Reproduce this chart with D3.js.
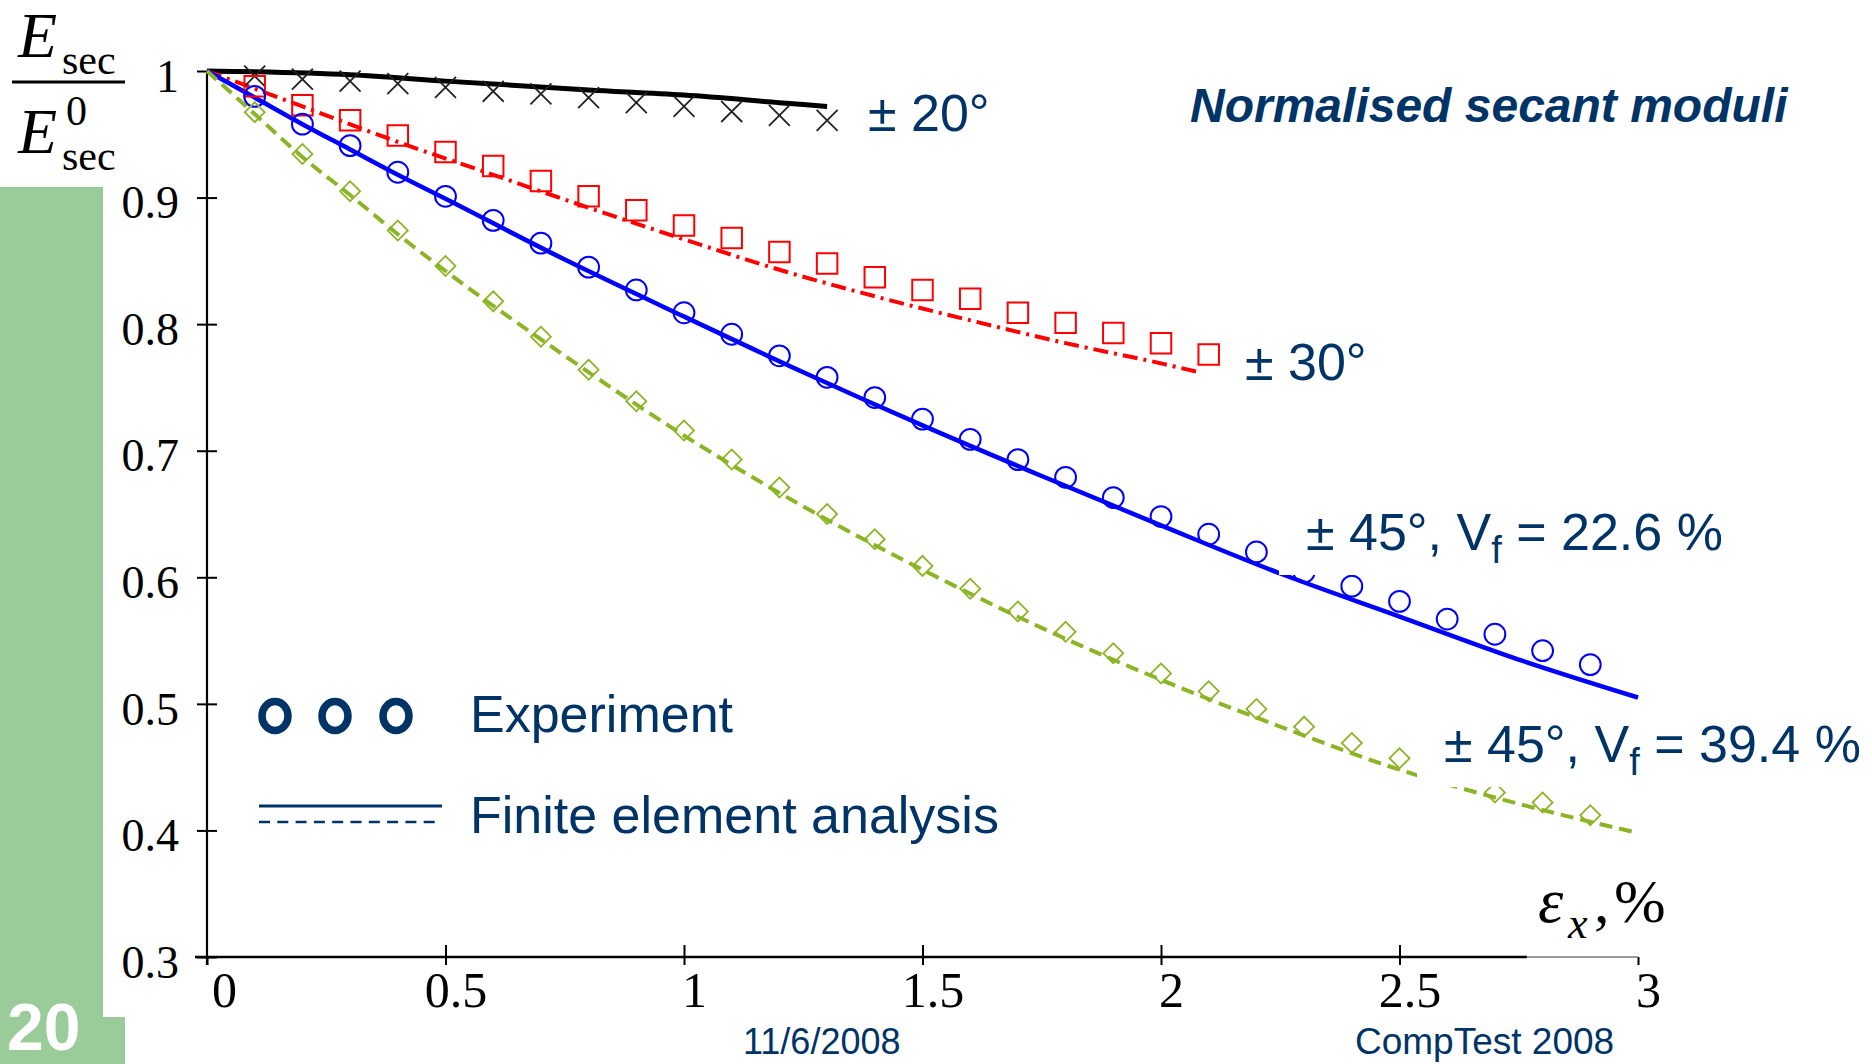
<!DOCTYPE html>
<html>
<head>
<meta charset="UTF-8">
<script src="https://d3js.org/d3.v7.min.js"></script>
<style>
  body { margin: 0; background: #fff; }
  svg text { font-family: "Liberation Sans", Arial, sans-serif; }
  .tick text { font-family: "Liberation Serif", "Times New Roman", serif; fill: #000; }
  .serif { font-family: "Liberation Serif", "Times New Roman", serif !important; }
  .navy { fill: #003366; }
</style>
</head>
<body>
<svg id="chart" width="1872" height="1064"></svg>
<script>
// ---- data ----
// experiments, strain steps of 0.1 %
var exp20X = [0.1,0.2,0.3,0.4,0.5,0.6,0.7,0.8,0.9,1.0,1.1,1.2,1.3];
var exp20Y = [0.996,0.9935,0.992,0.990,0.987,0.984,0.982,0.979,0.975,0.972,0.968,0.965,0.961];

var exp30X = [0.1,0.2,0.3,0.4,0.5,0.6,0.7,0.8,0.9,1.0,1.1,1.2,1.3,1.4,1.5,1.6,1.7,1.8,1.9,2.0,2.1];
var exp30Y = [0.988,0.973,0.961,0.949,0.936,0.925,0.913,0.901,0.890,0.878,0.868,0.857,0.848,0.837,0.827,0.820,0.809,0.801,0.793,0.785,0.776];

var exp45aX = [0.1,0.2,0.3,0.4,0.5,0.6,0.7,0.8,0.9,1.0,1.1,1.2,1.3,1.4,1.5,1.6,1.7,1.8,1.9,2.0,2.1,2.2,2.3,2.4,2.5,2.6,2.7,2.8,2.9];
var exp45aY = [0.980,0.958,0.941,0.920,0.901,0.882,0.864,0.845,0.827,0.809,0.792,0.775,0.758,0.742,0.725,0.709,0.693,0.679,0.663,0.648,0.634,0.620,0.604,0.593,0.581,0.567,0.555,0.542,0.531];

var exp45bX = [0.1,0.2,0.3,0.4,0.5,0.6,0.7,0.8,0.9,1.0,1.1,1.2,1.3,1.4,1.5,1.6,1.7,1.8,1.9,2.0,2.1,2.2,2.3,2.4,2.5,2.6,2.7,2.8,2.9];
var exp45bY = [0.9675,0.9345,0.905,0.874,0.846,0.818,0.790,0.764,0.739,0.716,0.693,0.671,0.650,0.630,0.609,0.591,0.573,0.557,0.540,0.524,0.510,0.496,0.482,0.469,0.457,0.443,0.430,0.422,0.412];

// finite element curves
var fe20X = [0,0.3,0.5,0.8,1.0,1.2,1.3];
var fe20Y = [1,0.997,0.992,0.985,0.981,0.975,0.972];

var fe30X = [0,0.2,0.4,0.6,0.8,1.0,1.2,1.4,1.6,1.8,2.0,2.08];
var fe30Y = [1,0.972,0.944,0.918,0.892,0.867,0.843,0.822,0.803,0.785,0.769,0.762];

var fe45aX = [0,0.1,0.2,0.3,0.4,0.5,0.75,1.0,1.25,1.5,1.75,2.0,2.25,2.5,2.75,3.0];
var fe45aY = [1,0.979,0.958,0.938,0.918,0.899,0.851,0.806,0.762,0.720,0.680,0.641,0.603,0.569,0.535,0.505];

var fe45bX = [0,0.1,0.2,0.3,0.4,0.5,0.75,1.0,1.25,1.5,1.75,2.0,2.25,2.5,2.75,3.0];
var fe45bY = [1,0.966,0.932,0.902,0.871,0.842,0.775,0.712,0.656,0.606,0.560,0.519,0.482,0.448,0.421,0.398];

var xTicks = [0,0.5,1,1.5,2,2.5,3];
var xTickLabels = ["0","0.5","1","1.5","2","2.5","3"];
var yTicks = [0.3,0.4,0.5,0.6,0.7,0.8,0.9,1];
var yTickLabels = ["0.3","0.4","0.5","0.6","0.7","0.8","0.9","1"];

var legendLabels = ["Experiment", "Finite element analysis"];

// ---- drawing ----
var svg = d3.select('#chart');
var navy = '#003366';

var x = d3.scaleLinear().domain([0,3]).range([207,1638]);
var y = d3.scaleLinear().domain([0.3,1]).range([957,71]);

// green slide band + page number
svg.append('rect').attr('x',0).attr('y',187).attr('width',103).attr('height',877).attr('fill','#99cc99');
svg.append('rect').attr('x',0).attr('y',1017).attr('width',125).attr('height',47).attr('fill','#99cc99');
svg.append('text').attr('x',7).attr('y',1050)
  .style('font-size','66px').style('font-weight','bold').attr('fill','#fff').text('20');

// axes
var yAxis = svg.append('g').attr('transform','translate(' + x(0) + ',0)')
  .call(d3.axisLeft(y).tickValues(yTicks).tickFormat(function(d,i){ return yTickLabels[i]; }));
yAxis.select('.domain').remove();
yAxis.selectAll('.tick line').attr('x1',-10).attr('x2',10).attr('stroke','#000').attr('stroke-width',2);
yAxis.selectAll('.tick text').attr('x',-28).attr('dy','0.44em').style('font-size','46px');

var xAxis = svg.append('g').attr('transform','translate(0,' + y(0.3) + ')')
  .call(d3.axisBottom(x).tickValues(xTicks).tickFormat(function(d,i){ return xTickLabels[i]; }));
xAxis.select('.domain').remove();
xAxis.selectAll('.tick line')
  .attr('y1', function(d){ return (d === 0 || d === 3) ? 0 : -12; })
  .attr('y2', 8).attr('stroke','#000').attr('stroke-width',2);
xAxis.selectAll('.tick text').attr('y',50).attr('dy',0)
  .attr('dx', function(d){ return d === 0 ? 17 : 10; })
  .style('font-size','50px');

var axisFadeAt = 2.767;
svg.append('line').attr('x1',x(0)).attr('x2',x(0)).attr('y1',y(1)).attr('y2',y(0.3)+8)
  .attr('stroke','#000').attr('stroke-width',2.2);
svg.append('line').attr('x1',x(0)-12).attr('x2',x(axisFadeAt)).attr('y1',y(0.3)).attr('y2',y(0.3))
  .attr('stroke','#000').attr('stroke-width',2.5);
svg.append('line').attr('x1',x(axisFadeAt)).attr('x2',x(3)).attr('y1',y(0.3)).attr('y2',y(0.3))
  .attr('stroke','#777').attr('stroke-width',1.5);

// FE curves
var line = d3.line().x(function(d){ return x(d[0]); }).y(function(d){ return y(d[1]); })
  .curve(d3.curveMonotoneX);
var feSeries = [
  { xs: fe20X, ys: fe20Y, color: '#000', width: 5, dash: null },
  { xs: fe30X, ys: fe30Y, color: '#ff0000', width: 4, dash: '15,6,3,6' },
  { xs: fe45aX, ys: fe45aY, color: '#0000ff', width: 4.5, dash: null },
  { xs: fe45bX, ys: fe45bY, color: '#8cb526', width: 4, dash: '13,7' }
];
feSeries.forEach(function(s){
  svg.append('path').datum(d3.zip(s.xs, s.ys))
    .attr('d', line).attr('fill','none')
    .attr('stroke', s.color).attr('stroke-width', s.width)
    .attr('stroke-dasharray', s.dash);
});

// experiment markers
var symX = { draw: function(ctx, size){ var r = Math.sqrt(size)/2;
  ctx.moveTo(-r,-r); ctx.lineTo(r,r); ctx.moveTo(-r,r); ctx.lineTo(r,-r); } };
var expSeries = [
  { xs: exp20X, ys: exp20Y, color: '#222', type: symX, size: 440, rot: 0, w: 1.8 },
  { xs: exp30X, ys: exp30Y, color: '#ff0000', type: d3.symbolSquare, size: 420, rot: 0, w: 2 },
  { xs: exp45aX, ys: exp45aY, color: '#0000ff', type: d3.symbolCircle, size: 340, rot: 0, w: 2 },
  { xs: exp45bX, ys: exp45bY, color: '#8cb526', type: d3.symbolSquare, size: 200, rot: 45, w: 1.8 }
];
expSeries.forEach(function(s){
  svg.append('g').selectAll('path').data(d3.zip(s.xs, s.ys)).join('path')
    .attr('d', d3.symbol().type(s.type).size(s.size))
    .attr('transform', function(d){ return 'translate(' + x(d[0]) + ',' + y(d[1]) + ') rotate(' + s.rot + ')'; })
    .attr('fill','none').attr('stroke', s.color).attr('stroke-width', s.w);
});

// curve labels (white boxes behind the two long ones)
function curveLabel(x0, base, parts, boxed){
  var g = svg.append('g');
  var box = boxed ? g.append('rect').attr('fill','#fff') : null;
  var t = g.append('text').attr('x', x0).attr('y', base).attr('class','navy').style('font-size','52px');
  parts.forEach(function(p){
    var ts = t.append('tspan').text(p.t);
    if (p.sub) ts.style('font-size','38px').attr('dy', 13);
    if (p.back) ts.attr('dy', -13);
  });
  if (box){
    var bb = t.node().getBBox();
    box.attr('x', bb.x - 27).attr('y', base - 42).attr('width', bb.width + 30).attr('height', 67);
  }
}
curveLabel(868, 131, [{t:'\u00b1 20\u00b0'}], false);
curveLabel(1245, 380, [{t:'\u00b1 30\u00b0'}], false);
curveLabel(1306, 550, [{t:'\u00b1 45\u00b0, V'},{t:'f',sub:true},{t:' = 22.6 %',back:true}], true);
curveLabel(1444, 762, [{t:'\u00b1 45\u00b0, V'},{t:'f',sub:true},{t:' = 39.4 %',back:true}], true);

// title
svg.append('text').attr('x',1190).attr('y',122).attr('class','navy')
  .style('font-size','48px').style('font-weight','bold').style('font-style','italic')
  .text('Normalised secant moduli');

// legend
[275, 335, 396].forEach(function(cx){
  svg.append('ellipse').attr('cx',cx).attr('cy',716).attr('rx',13).attr('ry',14.5)
    .attr('fill','none').attr('stroke',navy).attr('stroke-width',7.5);
});
svg.append('line').attr('x1',259).attr('x2',442).attr('y1',806).attr('y2',806)
  .attr('stroke',navy).attr('stroke-width',3);
svg.append('line').attr('x1',259).attr('x2',442).attr('y1',822).attr('y2',822)
  .attr('stroke',navy).attr('stroke-width',2.5).attr('stroke-dasharray','11,7.3');
svg.append('text').attr('x',470).attr('y',732).attr('class','navy').style('font-size','52px').text(legendLabels[0]);
svg.append('text').attr('x',470).attr('y',833).attr('class','navy').style('font-size','52px').text(legendLabels[1]);

// axis titles
var serif = function(sel){ return sel.attr('class','serif').attr('fill','#000'); };
serif(svg.append('text').attr('x',18).attr('y',57)).style('font-size','64px').style('font-style','italic').text('E');
serif(svg.append('text').attr('x',62).attr('y',74)).style('font-size','42px').text('sec');
svg.append('line').attr('x1',12).attr('x2',125).attr('y1',82).attr('y2',82).attr('stroke','#000').attr('stroke-width',3);
serif(svg.append('text').attr('x',18).attr('y',153)).style('font-size','64px').style('font-style','italic').text('E');
serif(svg.append('text').attr('x',66).attr('y',125)).style('font-size','42px').text('0');
serif(svg.append('text').attr('x',62).attr('y',170)).style('font-size','42px').text('sec');

serif(svg.append('text').attr('x',1538).attr('y',922)).style('font-size','64px').style('font-style','italic').text('\u03b5');
serif(svg.append('text').attr('x',1568).attr('y',938)).style('font-size','44px').style('font-style','italic').text('x');
serif(svg.append('text').attr('x',1594).attr('y',922)).style('font-size','62px').text(',');
serif(svg.append('text').attr('x',1614).attr('y',922)).style('font-size','62px').text('%');

// footer
svg.append('text').attr('x',743).attr('y',1054).attr('class','navy').style('font-size','36px').text('11/6/2008');
svg.append('text').attr('x',1355).attr('y',1054).attr('class','navy').style('font-size','37px').text('CompTest 2008');
</script>
</body>
</html>
